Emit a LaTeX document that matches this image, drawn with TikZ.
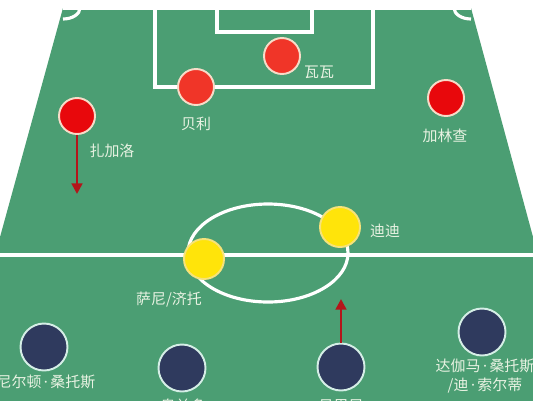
\documentclass[tikz,border=0pt]{standalone}
\usepackage{fontspec}
\setmainfont{Noto Sans CJK SC}
\newfontfamily\dotfont{Noto Sans}
\newcommand{\pdot}{{\dotfont\,·\,}}
\usetikzlibrary{arrows.meta}
\definecolor{pitch}{HTML}{4B9E73}
\definecolor{fwdred}{HTML}{F03528}
\definecolor{wingred}{HTML}{E8080C}
\definecolor{redrim}{HTML}{F7DCC8}
\definecolor{midyellow}{HTML}{FFE40A}
\definecolor{yellowrim}{HTML}{F6E27A}
\definecolor{backnavy}{HTML}{2F3A5E}
\definecolor{navyrim}{HTML}{D5EEE6}
\definecolor{nametext}{HTML}{E8F2E2}
\definecolor{runred}{HTML}{B3151A}
\begin{document}
\begin{tikzpicture}
  [x=0.02cm,y=-0.02cm,
  line/.style={white,line width=1.8pt},
  fwd/.style={circle,fill=fwdred,draw=redrim,line width=1.1pt,minimum size=0.72cm,inner sep=0pt},
  wing/.style={fwd,fill=wingred},
  mid/.style={circle,fill=midyellow,draw=yellowrim,line width=1.1pt,minimum size=0.8cm,inner sep=0pt},
  back/.style={circle,fill=backnavy,draw=navyrim,line width=1.1pt,minimum size=0.94cm,inner sep=0pt},
  pname/.style={text=nametext,font=\fontsize{8.5}{11}\selectfont,inner sep=0pt},
  run/.style={runred,line width=1.6pt,-{Triangle[length=6pt,width=6pt]}}]

  \useasboundingbox (0,0) rectangle (533,400);
  \clip (0,0) rectangle (533,400);
  \fill[white] (0,0) rectangle (533,400);
  \fill[pitch] (63,8) -- (471,8) -- (536,248) -- (536,402) -- (-3,402) -- (-3,248) -- cycle;

  \draw[line] (63,8) -- (471,8);
  \draw[line] (155,8) -- (155,87) -- (373,87) -- (373,8);
  \draw[line] (217,8) -- (217,32) -- (312,32) -- (312,8);
  \draw[line] (80,8) arc[start angle=0,end angle=90,x radius=17,y radius=11];
  \draw[line] (454,8) arc[start angle=180,end angle=90,x radius=17,y radius=11];
  \draw[line] (-5,255) -- (540,255);
  \draw[line] (268,253) ellipse [x radius=80,y radius=49];

  \node[fwd] (vava) at (282,56) {};
  \node[fwd] (pele) at (196,87) {};
  \node[wing] (garrincha) at (446,98) {};
  \node[wing] (zagallo) at (77,116) {};
  \node[mid] (didi) at (340,227) {};
  \node[mid] (zito) at (204,259) {};
  \node[back] (nilton) at (44,347) {};
  \node[back] (orlando) at (182,368) {};
  \node[back] (bellini) at (341,367) {};
  \node[back] (djalma) at (482,332) {};

  \node[pname] (vavaname) at (319,72) {瓦瓦};
  \node[pname] (pelename) at (196,124) {贝利};
  \node[pname] (garrinchaname) at (445,136) {加林查};
  \node[pname] (zagalloname) at (112,151) {扎加洛};
  \node[pname] (didiname) at (385,231) {迪迪};
  \node[pname] (zitoname) at (169,300) {萨尼/济托};
  \node[pname] (niltonname) at (46,382) {尼尔顿\pdot 桑托斯};
  \node[pname] (orlandoname) at (183,406) {奥兰多};
  \node[pname] (bellininame) at (341,406) {贝里尼};
  \node[pname,align=center] (djalmaname) at (485,376) {达伽马\pdot 桑托斯\\/迪\pdot 索尔蒂};

  \coordinate (zagalloto) at (77,194);
  \coordinate (bellinito) at (341,299);
  \draw[run] (zagallo.south) -- (zagalloto);
  \draw[run] (bellini.north) -- (bellinito);

\end{tikzpicture}
\end{document}
